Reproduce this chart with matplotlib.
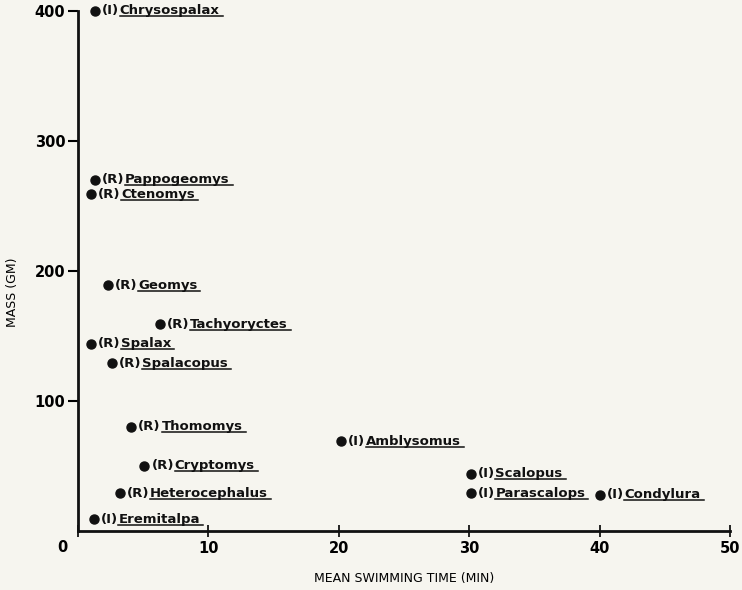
import matplotlib
matplotlib.use("Agg")
import matplotlib.pyplot as plt
from matplotlib.lines import Line2D

# data
genus = ["Chrysospalax", "Pappogeomys", "Ctenomys", "Geomys", "Tachyoryctes",
         "Spalax", "Spalacopus", "Thomomys", "Cryptomys", "Heterocephalus",
         "Eremitalpa", "Amblysomus", "Scalopus", "Parascalops", "Condylura"]
group = ["I", "R", "R", "R", "R", "R", "R", "R", "R", "R", "I", "I", "I", "I", "I"]
swim_time = [1.3, 1.3, 1.0, 2.3, 6.3, 1.0, 2.6, 4.1, 5.1, 3.2, 1.2, 20.2, 30.1, 30.1, 40.0]
mass = [400, 270, 259, 189, 159, 144, 129, 80, 50, 29, 9, 69, 44, 29, 28]

bg = "#f6f5ef"
fig = plt.figure(figsize=(7.42, 5.90), dpi=100, facecolor=bg)
ax = fig.add_axes([0.105, 0.1, 0.879, 0.8814])
ax.set_facecolor(bg)

ax.plot(swim_time, mass, "o", color="#111111", ms=6.5, clip_on=False)

ax.set_xlim(0, 50)
ax.set_ylim(0, 400)
for s in ["top", "right"]:
    ax.spines[s].set_visible(False)
for s in ["left", "bottom"]:
    ax.spines[s].set_linewidth(2)
    ax.spines[s].set_color("#111111")

ax.set_xticks([0, 10, 20, 30, 40, 50])
ax.set_xticklabels(["", "10", "20", "30", "40", "50"])
ax.set_yticks([100, 200, 300, 400])
ax.tick_params(axis="x", direction="inout", length=8, width=1.2, pad=3)
ax.tick_params(axis="y", direction="out", length=7, width=1.5, pad=2)
for t in ax.get_xticklabels() + ax.get_yticklabels():
    t.set_fontweight("bold")
    t.set_fontsize(10.5)
ax.text(-1.2, -13, "0", ha="center", va="center", fontsize=10.5, fontweight="bold")

ax.set_xlabel("MEAN SWIMMING TIME (MIN)", fontsize=9, labelpad=12)
ax.set_ylabel("MASS (GM)", fontsize=9)
ax.yaxis.set_label_coords(-0.09, 0.46)

label_kw = dict(fontsize=9.5, fontweight="bold", color="#111111", va="center")
pairs = []
for x, y, g, name in zip(swim_time, mass, group, genus):
    pre = ax.annotate("(%s)" % g, (x, y), xytext=(5, 0), textcoords="offset points",
                      annotation_clip=False, **label_kw)
    gen = ax.annotate(name, (1, 0.5), xycoords=pre, xytext=(0.5, 0),
                      textcoords="offset points", annotation_clip=False, **label_kw)
    pairs.append(gen)

fig.canvas.draw()
r = fig.canvas.get_renderer()
for gen in pairs:
    bb = gen.get_window_extent(r)
    x0, x1 = bb.x0 / fig.bbox.width, (bb.x1 + 3) / fig.bbox.width
    yy = (bb.y0 + 1) / fig.bbox.height
    fig.add_artist(Line2D([x0, x1], [yy, yy], color="#111111", lw=1.1))

fig.savefig("out.png", dpi=100, facecolor=bg)
